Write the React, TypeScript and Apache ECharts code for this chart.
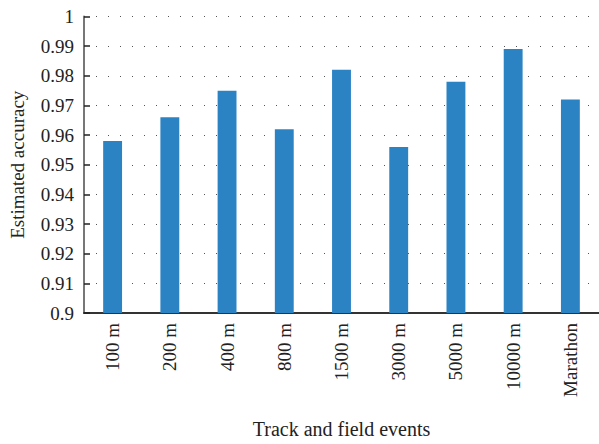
import React, { useEffect, useRef } from "react";
import * as echarts from "echarts";

const categories = ["100 m", "200 m", "400 m", "800 m", "1500 m", "3000 m", "5000 m", "10000 m", "Marathon"];
const accuracy = [0.958, 0.966, 0.975, 0.962, 0.982, 0.956, 0.978, 0.989, 0.972];

const FONT = "Liberation Serif";

export default function App() {
  const ref = useRef<HTMLDivElement>(null);
  useEffect(() => {
    const chart = echarts.init(ref.current!, null, { renderer: "svg" });
    chart.setOption({
      animation: false,
      backgroundColor: "#ffffff",
      grid: { left: 83.7, right: -4.5, top: 16.5, bottom: 129.7, containLabel: false },
      xAxis: {
        type: "category",
        data: categories,
        name: "Track and field events",
        nameLocation: "middle",
        nameGap: 106,
        nameTextStyle: { fontFamily: FONT, fontSize: 20, color: "#222" },
        axisLine: { lineStyle: { color: "#333", width: 2 } },
        axisTick: { show: false },
        axisLabel: { rotate: 90, margin: 10, fontFamily: FONT, fontSize: 19, color: "#222" },
      },
      yAxis: {
        type: "value",
        min: 0.9,
        max: 1,
        interval: 0.01,
        name: "Estimated accuracy",
        nameLocation: "middle",
        nameGap: 57,
        nameTextStyle: { fontFamily: FONT, fontSize: 19, color: "#222" },
        axisLine: { show: true, lineStyle: { color: "#777", width: 2 } },
        axisTick: { show: true, inside: true, length: 6, lineStyle: { color: "#222", width: 1.5 } },
        axisLabel: {
          margin: 10,
          fontFamily: FONT,
          fontSize: 19,
          color: "#222",
          formatter: (v: number) => String(parseFloat(v.toFixed(2))),
        },
        splitLine: { show: true, lineStyle: { color: "#555", width: 1, type: [1, 11], dashOffset: -12 } },
      },
      series: [
        {
          type: "bar",
          data: accuracy,
          barWidth: "33%",
          itemStyle: { color: "#2b83c4" },
        },
      ],
    });
    return () => chart.dispose();
  }, []);
  return <div ref={ref} style={{ position: "absolute", left: 0, top: 0, width: 599, height: 444 }} />;
}
